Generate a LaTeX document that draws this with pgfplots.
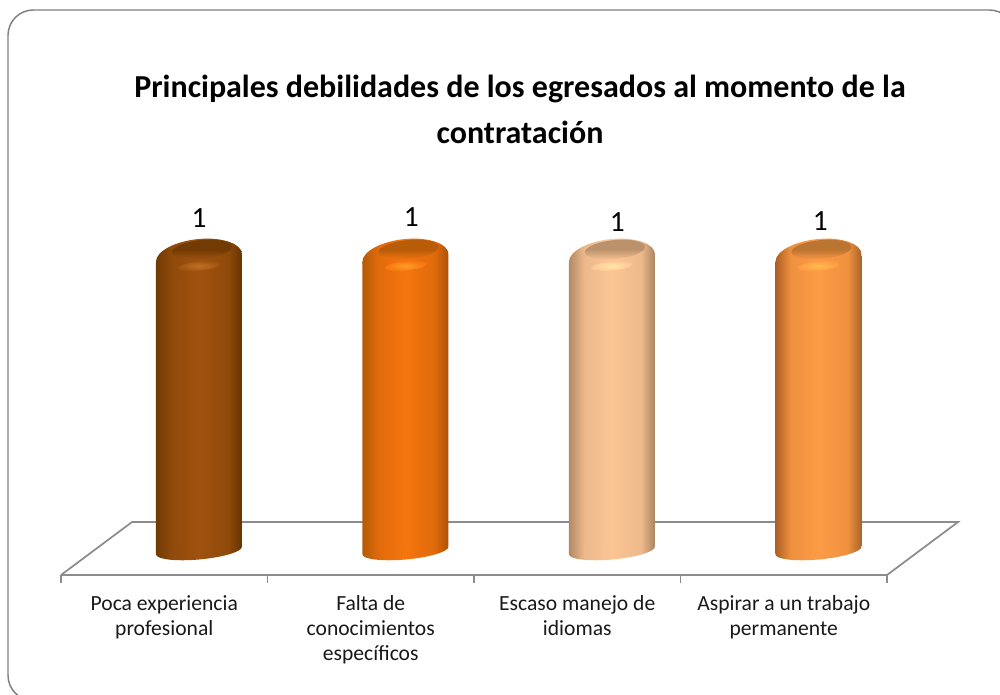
\documentclass[border=0pt]{standalone}
\usepackage{pgfplots}
\pgfplotsset{compat=1.18}
\usepackage{fontspec}
\setmainfont{Carlito}
\usetikzlibrary{shapes.geometric}
\definecolor{Adk}{HTML}{703A04}\definecolor{Abs}{HTML}{8F4A09}\definecolor{Amd}{HTML}{A0520F}\definecolor{Adr}{HTML}{663302}\definecolor{Afc}{HTML}{723B03}\definecolor{Ahl}{HTML}{BE7222}
\definecolor{Bdk}{HTML}{B55A08}\definecolor{Bbs}{HTML}{E06A0B}\definecolor{Bmd}{HTML}{F5760E}\definecolor{Bdr}{HTML}{AB5205}\definecolor{Bfc}{HTML}{B85C08}\definecolor{Bhl}{HTML}{FF9C2A}
\definecolor{Cdk}{HTML}{B38A66}\definecolor{Cbs}{HTML}{EDB98B}\definecolor{Cmd}{HTML}{FCC594}\definecolor{Cdr}{HTML}{AA8460}\definecolor{Cfc}{HTML}{BC926C}\definecolor{Chl}{HTML}{FFE9A8}
\definecolor{Ddk}{HTML}{AE6024}\definecolor{Dbs}{HTML}{EF913F}\definecolor{Dmd}{HTML}{FD9B46}\definecolor{Ddr}{HTML}{A9642A}\definecolor{Dfc}{HTML}{BC7431}\definecolor{Dhl}{HTML}{FFBC4C}
\newcommand{\mkshade}[1]{%
 \pgfdeclarehorizontalshading{cyl#1}{100bp}{color(0bp)=(#1dk);color(25bp)=(#1dk);color(34bp)=(#1bs);color(50bp)=(#1md);color(67bp)=(#1bs);color(75bp)=(#1dr);color(100bp)=(#1dr)}%
 \pgfdeclareverticalshading{face#1}{100bp}{color(0bp)=(#1md);color(25bp)=(#1md);color(50bp)=(#1fc);color(100bp)=(#1fc)}%
 \pgfdeclareradialshading{high#1}{\pgfpoint{0bp}{0bp}}{color(0bp)=(#1hl);color(25bp)=(#1md);color(50bp)=(#1md)}%
}
\mkshade{A}\mkshade{B}\mkshade{C}\mkshade{D}
% ellipse drawn at a data point: x, y, xshift, yshift, width, height, shading
\newcommand{\capnode}[7]{%
 \addplot[only marks, mark=none, forget plot, point meta=y, nodes near coords={},
  every node near coord/.style={xshift=#3*0.75pt, yshift=#4*0.75pt, yslant=0.0875, ellipse, draw=none, inner sep=0pt, minimum width=#5*0.75pt, minimum height=#6*0.75pt, anchor=center, shading=#7}]
  coordinates {(#1,#2)};
}
% x, value, series letter, label xshift, label yshift, slant offset
\newcommand{\cyl}[6]{%
 \capnode{#1}{0}{34.7}{-0.5}{86}{18}{cyl#3}
 \addplot[ybar, forget plot, bar width=86*0.75pt, bar shift=26pt, draw=none, yshift=#6pt, yslant=0.0875, shading=cyl#3] coordinates {(#1,#2)};
 \capnode{#1}{#2}{34.7}{1}{86}{38}{cyl#3}
 \capnode{#1}{#2}{37.7}{9.5}{60}{19}{face#3}
 \capnode{#1}{#2}{34.7}{-7}{42}{9}{high#3}
 \addplot[only marks, mark=none, forget plot, point meta=y, nodes near coords={\pgfmathprintnumber{\pgfplotspointmeta}},
  every node near coord/.style={xshift=#4*0.75pt, yshift=#5*0.75pt, anchor=center, font=\fontsize{22}{24}\selectfont, text=black, /pgf/number format/assume math mode=true}]
  coordinates {(#1,#2)};
}
\begin{document}
\begin{tikzpicture}
\path[use as bounding box] (0,0) rectangle (750pt,520.5pt);
\begin{scope}
\clip (0,0) rectangle (750pt,520.5pt);
\draw[color=black!50, line width=1.1pt, rounded corners=19pt] (6pt,-5pt) rectangle (761pt,513pt);
\end{scope}
\begin{axis}[
  at={(45.75pt,89.25pt)}, anchor=south west,
  scale only axis, width=619.5pt, height=237pt,
  xmin=-0.5, xmax=3.5, ymin=-0.0859, ymax=1,
  clip=false,
  axis x line=bottom, axis y line=none,
  axis line style={draw=black!45, line width=1.3pt, -},
  xtick={0,1,2,3},
  xticklabels={{Poca experiencia\\profesional},{Falta de\\conocimientos\\específicos},{Escaso manejo de\\idiomas},{Aspirar a un trabajo\\permanente}},
  major tick length=0pt,
  extra x ticks={-0.5,0.5,1.5,2.5,3.5},
  extra x tick labels={},
  extra x tick style={tick style={draw=black!45, line width=1.3pt}, major tick length=6pt, tick align=outside},
  xticklabel style={align=center, font=\fontsize{16.2}{18.6}\selectfont, text=black!90, anchor=north, yshift=-12pt},
  title={Principales debilidades de los egresados al momento de la\\contratación},
  title style={at={(0.5,1)}, anchor=south, align=center, xshift=34.5pt, yshift=77pt, font=\fontsize{24}{34.5}\selectfont\bfseries},
]
\addplot[forget plot, draw=black!45, line width=1.3pt] coordinates {(-0.5,-0.0859) (-0.156,0.0962) (3.844,0.0962) (3.5,-0.0859)};
\cyl{0}{1}{A}{34.7}{41}{-9.056}
\cyl{1}{1}{B}{40.5}{42}{-22.61}
\cyl{2}{1}{C}{40}{37}{-36.17}
\cyl{3}{1}{D}{36.5}{38}{-49.71}
\end{axis}
\end{tikzpicture}
\end{document}
